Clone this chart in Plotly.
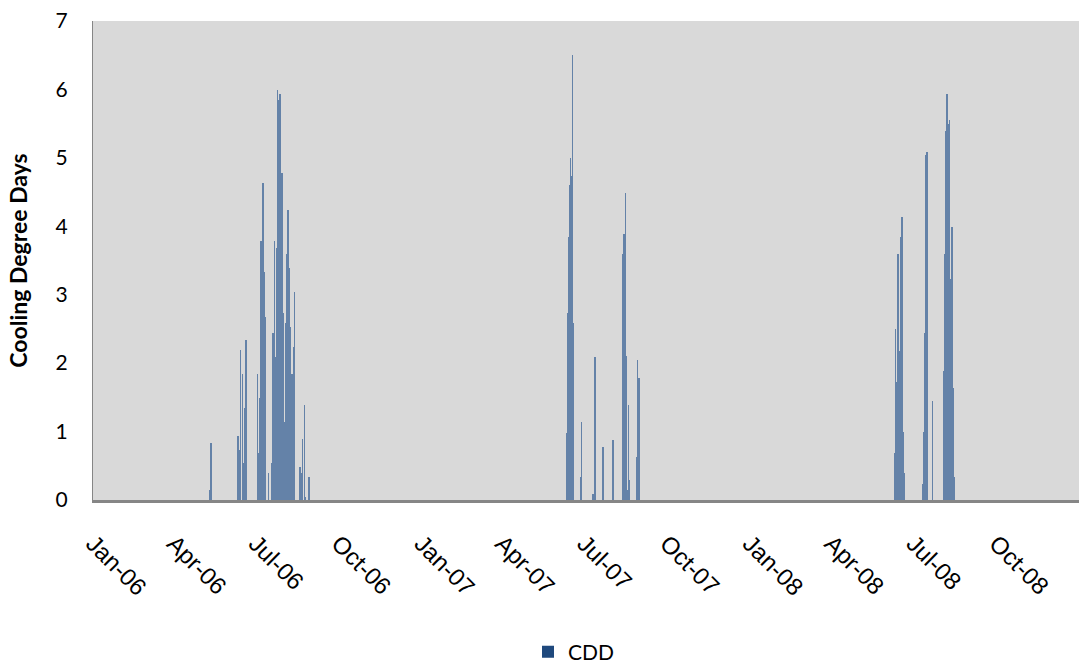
import plotly.graph_objects as go

# Daily cooling degree days (non-zero days only), 2006-2008
cdd_dates_2006 = [
    "2006-05-11", "2006-05-12", "2006-06-11", "2006-06-13", "2006-06-14",
    "2006-06-16", "2006-06-17", "2006-06-19", "2006-06-20", "2006-07-03",
    "2006-07-04", "2006-07-05", "2006-07-06", "2006-07-07", "2006-07-08",
    "2006-07-09", "2006-07-10", "2006-07-12", "2006-07-15", "2006-07-19",
    "2006-07-20", "2006-07-21", "2006-07-22", "2006-07-23", "2006-07-24",
    "2006-07-25", "2006-07-26", "2006-07-27", "2006-07-28", "2006-07-29",
    "2006-07-30", "2006-07-31", "2006-08-01", "2006-08-02", "2006-08-03",
    "2006-08-04", "2006-08-05", "2006-08-06", "2006-08-07", "2006-08-08",
    "2006-08-09", "2006-08-10", "2006-08-11", "2006-08-12", "2006-08-13",
    "2006-08-19", "2006-08-20", "2006-08-22", "2006-08-24", "2006-08-25",
    "2006-08-29",
]
cdd_values_2006 = [
    0.15, 0.84, 0.94, 0.73, 2.19,
    1.84, 0.54, 1.34, 2.34, 1.84,
    0.69, 1.49, 3.04, 3.79, 3.68,
    4.63, 3.33, 2.68, 0.39, 0.54,
    2.44, 1.49, 3.79, 2.09, 3.68,
    5.99, 3.87, 5.84, 5.94, 4.63,
    4.78, 2.73, 2.30, 1.14, 2.59,
    3.59, 3.33, 4.24, 3.39, 2.53,
    1.29, 1.84, 0.44, 2.24, 3.04,
    0.48, 0.39, 0.89, 1.39, 0.05,
    0.34,
]

cdd_dates_2007 = [
    "2007-06-12", "2007-06-13", "2007-06-14", "2007-06-15", "2007-06-16",
    "2007-06-17", "2007-06-18", "2007-06-19", "2007-06-27", "2007-06-28",
    "2007-07-11", "2007-07-13", "2007-07-22", "2007-08-02", "2007-08-13",
    "2007-08-14", "2007-08-15", "2007-08-16", "2007-08-17", "2007-08-18",
    "2007-08-19", "2007-08-20", "2007-08-28", "2007-08-29", "2007-08-30",
    "2007-08-31",
]
cdd_values_2007 = [
    0.98, 2.74, 3.84, 4.60, 5.00,
    4.74, 6.50, 2.58, 0.34, 1.14,
    0.09, 2.09, 0.78, 0.88, 3.59,
    3.89, 2.79, 4.48, 2.10, 0.15,
    1.39, 0.29, 0.63, 2.04, 1.71,
    1.79,
]

cdd_dates_2008 = [
    "2008-06-10", "2008-06-11", "2008-06-12", "2008-06-13", "2008-06-14",
    "2008-06-15", "2008-06-16", "2008-06-17", "2008-06-18", "2008-06-19",
    "2008-06-20", "2008-06-21", "2008-07-11", "2008-07-13", "2008-07-14",
    "2008-07-15", "2008-07-16", "2008-07-22", "2008-08-04", "2008-08-05",
    "2008-08-06", "2008-08-07", "2008-08-08", "2008-08-09", "2008-08-10",
    "2008-08-11", "2008-08-12", "2008-08-13", "2008-08-14", "2008-08-15",
]
cdd_values_2008 = [
    0.69, 2.50, 1.73, 1.88, 3.59,
    2.10, 2.18, 3.84, 4.14, 2.39,
    0.99, 0.39, 0.23, 1.00, 2.44,
    5.04, 5.09, 1.44, 1.89, 3.60,
    5.39, 5.94, 5.09, 5.49, 5.55,
    3.23, 2.84, 3.99, 1.63, 0.34,
]

y_ticks = [0, 1, 2, 3, 4, 5, 6, 7]

dates = cdd_dates_2006 + cdd_dates_2007 + cdd_dates_2008
values = cdd_values_2006 + cdd_values_2007 + cdd_values_2008

DAY_MS = 86400000
SERIES_COLOR = "#1F497D"   # legend key colour
BAR_FILL = "#6482A8"       # hairline daily bars read lighter than the key

fig = go.Figure()
fig.add_trace(go.Bar(
    x=dates,
    y=values,
    name="CDD",
    legendgroup="cdd",
    showlegend=False,
    width=0.6 * DAY_MS,
    marker=dict(color=BAR_FILL, line=dict(width=0)),
))
# legend key for the series
fig.add_trace(go.Bar(
    x=[None],
    y=[None],
    name="CDD",
    legendgroup="cdd",
    showlegend=True,
    marker=dict(color=SERIES_COLOR, line=dict(width=0)),
))

fig.update_layout(
    width=1081,
    height=666,
    margin=dict(l=93, r=2, t=21, b=166, autoexpand=False),
    paper_bgcolor="#FFFFFF",
    plot_bgcolor="#D9D9D9",
    showlegend=True,
    legend=dict(
        orientation="h",
        xref="container", yref="container",
        x=528 / 1081, y=0.021,
        xanchor="left", yanchor="middle",
        font=dict(family="Lato, Open Sans, sans-serif", size=21, color="#000000"),
        itemwidth=30,
    ),
    bargap=0,
)

fig.update_xaxes(
    type="date",
    range=["2006-01-01", "2009-01-01"],
    tick0="2006-01-01",
    dtick="M3",
    tickformat="%b-%y",
    tickangle=45,
    ticks="",
    ticklabelstandoff=17,
    showgrid=False,
    zeroline=False,
    showline=True,
    linecolor="#868686",
    linewidth=3,
    tickfont=dict(family="Liberation Sans, Arial, sans-serif", size=24, color="#000000"),
)

fig.update_yaxes(
    range=[0, 7],
    tickvals=y_ticks,
    ticks="",
    ticklabelstandoff=20,
    showgrid=False,
    zeroline=False,
    showline=True,
    linecolor="#868686",
    linewidth=1,
    tickfont=dict(family="Lato, Open Sans, sans-serif", size=21, color="#000000"),
    title=dict(
        text="<b>Cooling Degree Days</b>",
        font=dict(family="Lato, Open Sans, sans-serif", size=23, color="#000000"),
        standoff=21,
    ),
)

fig.write_html("out.html")
